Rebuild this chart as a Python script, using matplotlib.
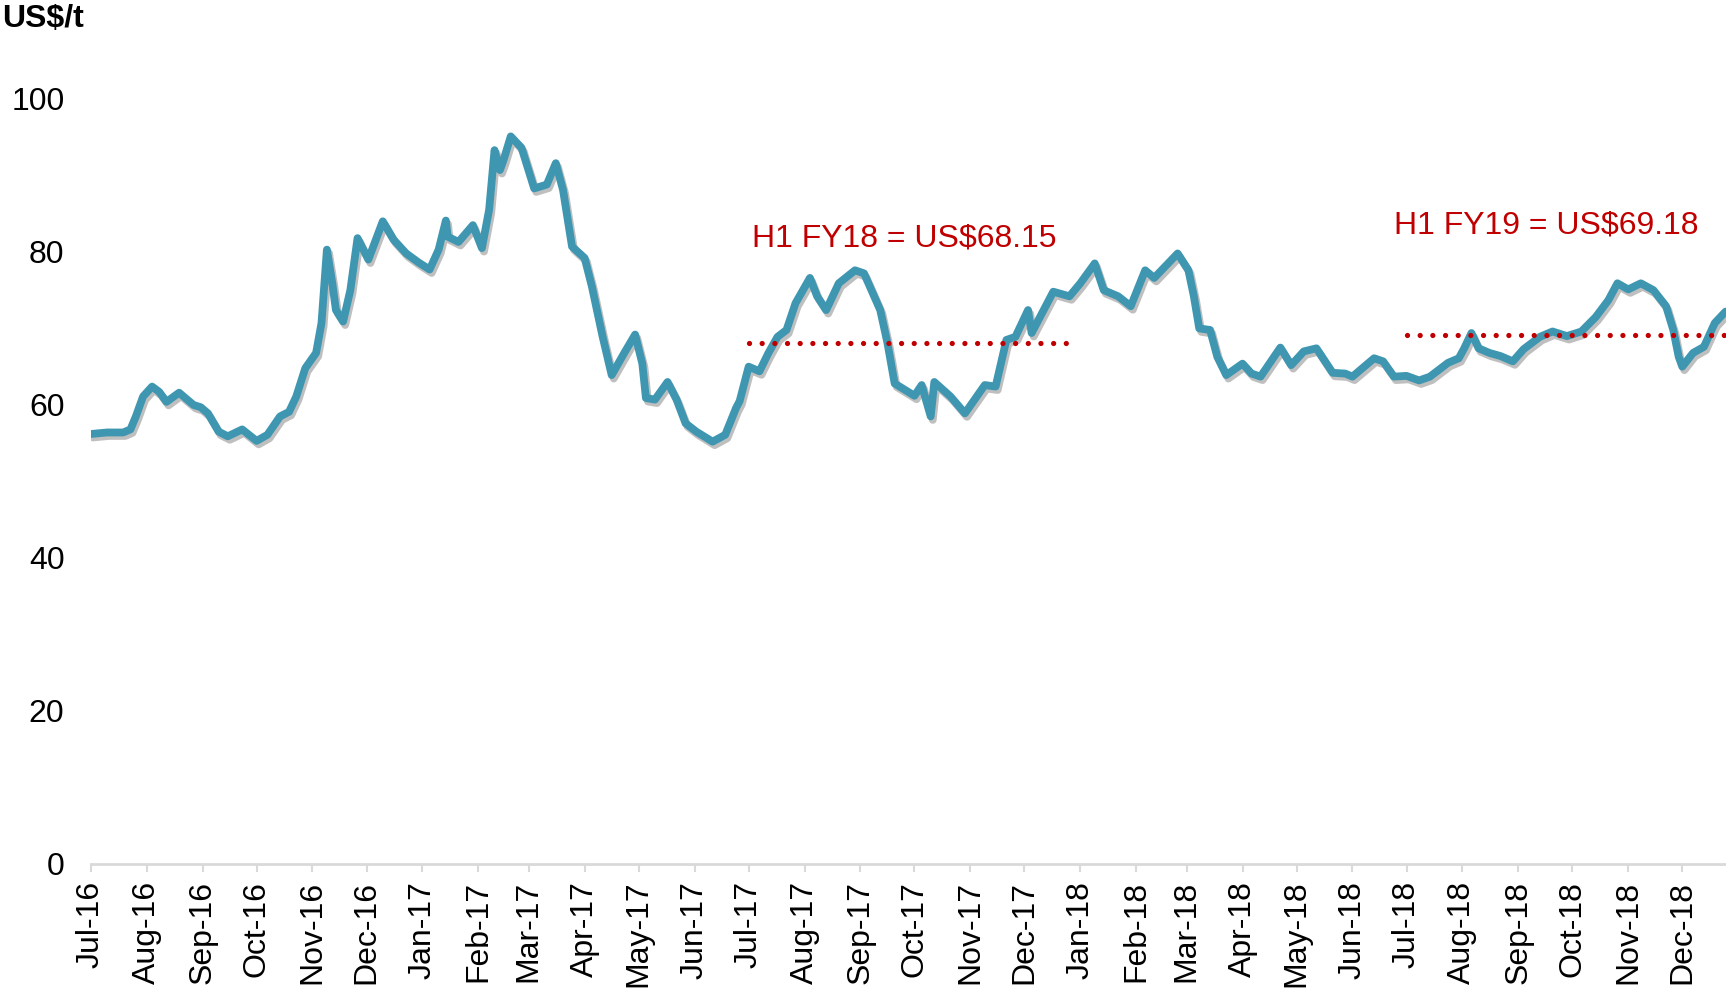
# Iron ore price chart, US$/t, Jul-16 to Dec-18
import numpy as np
import matplotlib
matplotlib.use('Agg')
import matplotlib.pyplot as plt
import matplotlib.dates as mdates
import matplotlib.patheffects as pe
import pandas as pd

plt.rcParams['font.family'] = ['Liberation Sans', 'DejaVu Sans']

# price readings (date, US$/t)
dates = ['2016-07-01', '2016-07-10', '2016-07-19', '2016-07-23', '2016-07-26', '2016-07-30',
         '2016-08-04', '2016-08-08', '2016-08-12', '2016-08-19', '2016-08-27', '2016-08-31',
         '2016-09-04', '2016-09-10', '2016-09-15', '2016-09-23', '2016-10-01', '2016-10-07',
         '2016-10-14', '2016-10-19', '2016-10-23', '2016-10-28', '2016-11-03', '2016-11-06',
         '2016-11-09', '2016-11-12', '2016-11-14', '2016-11-18', '2016-11-22', '2016-11-26',
         '2016-12-02', '2016-12-10', '2016-12-16', '2016-12-23', '2016-12-30',
         '2017-01-05', '2017-01-10', '2017-01-14', '2017-01-15', '2017-01-21', '2017-01-29',
         '2017-02-03', '2017-02-07', '2017-02-10', '2017-02-13', '2017-02-15', '2017-02-19',
         '2017-02-25', '2017-03-04', '2017-03-11', '2017-03-16', '2017-03-20', '2017-03-25',
         '2017-04-01', '2017-04-05', '2017-04-11', '2017-04-16', '2017-04-23', '2017-04-29',
         '2017-05-03', '2017-05-05', '2017-05-10', '2017-05-17', '2017-05-22', '2017-05-27',
         '2017-06-02', '2017-06-11', '2017-06-18', '2017-06-24', '2017-06-26', '2017-07-01',
         '2017-07-07', '2017-07-12', '2017-07-17', '2017-07-22', '2017-07-27', '2017-08-04',
         '2017-08-08', '2017-08-13', '2017-08-20', '2017-08-29', '2017-09-03', '2017-09-12',
         '2017-09-16', '2017-09-20', '2017-10-01', '2017-10-05', '2017-10-10', '2017-10-12',
         '2017-10-21', '2017-10-29', '2017-11-09', '2017-11-15', '2017-11-21', '2017-11-26',
         '2017-12-03', '2017-12-05', '2017-12-17', '2017-12-26',
         '2018-01-01', '2018-01-09', '2018-01-14', '2018-01-22', '2018-01-29', '2018-02-06',
         '2018-02-11', '2018-02-24', '2018-03-02', '2018-03-05', '2018-03-08', '2018-03-14',
         '2018-03-18', '2018-03-23', '2018-04-01', '2018-04-06', '2018-04-11', '2018-04-22',
         '2018-04-28', '2018-05-05', '2018-05-12', '2018-05-21', '2018-05-28', '2018-06-01',
         '2018-06-13', '2018-06-18', '2018-06-24', '2018-07-01', '2018-07-08', '2018-07-14',
         '2018-07-24', '2018-07-30', '2018-08-02', '2018-08-06', '2018-08-10', '2018-08-16',
         '2018-08-22', '2018-08-29', '2018-09-04', '2018-09-13', '2018-09-20', '2018-09-28',
         '2018-10-06', '2018-10-14', '2018-10-21', '2018-10-26', '2018-11-01', '2018-11-08',
         '2018-11-15', '2018-11-22', '2018-11-26', '2018-11-29', '2018-12-01', '2018-12-07',
         '2018-12-13', '2018-12-19', '2018-12-25']
prices = [56.2, 56.4, 56.4, 56.8, 58.5, 61.1,
          62.4, 61.7, 60.4, 61.6, 60.0, 59.7,
          58.9, 56.5, 55.9, 56.8, 55.3, 56.1,
          58.5, 59.1, 61.1, 64.8, 66.8, 70.7,
          80.3, 75.9, 72.4, 70.9, 75.0, 81.8,
          79.0, 84.0, 81.6, 79.8, 78.6,
          77.7, 80.3, 84.1, 82.0, 81.3, 83.5,
          80.5, 85.5, 93.3, 90.7, 92.0, 95.1,
          93.6, 88.3, 88.8, 91.6, 88.1, 80.7,
          79.2, 75.5, 68.9, 63.9, 66.8, 69.2,
          65.4, 60.9, 60.7, 63.0, 60.7, 57.6,
          56.5, 55.2, 56.1, 59.6, 60.5, 65.0,
          64.4, 66.8, 68.9, 69.8, 73.3, 76.6,
          74.2, 72.4, 75.9, 77.6, 77.2, 72.4,
          68.1, 62.8, 61.2, 62.6, 58.5, 63.0,
          61.1, 58.9, 62.6, 62.4, 68.5, 68.9,
          72.4, 69.4, 74.8, 74.2,
          75.9, 78.5, 75.0, 74.2, 72.9, 77.6,
          76.6, 79.8, 77.6, 74.2, 70.0, 69.8,
          66.3, 63.9, 65.4, 64.1, 63.7, 67.5,
          65.2, 67.0, 67.4, 64.2, 64.1, 63.7,
          66.1, 65.7, 63.7, 63.8, 63.2, 63.7,
          65.5, 66.1, 67.4, 69.4, 67.4, 66.8,
          66.4, 65.7, 67.3, 68.9, 69.6, 69.0,
          69.6, 71.5, 73.7, 75.9, 75.1, 75.9,
          75.0, 72.9, 69.8, 66.3, 65.0, 66.8,
          67.6, 70.7, 72.2]

# half-year averages
avg_labels = ['H1 FY18 = US$68.15', 'H1 FY19 = US$69.18']
avg_values = [68.15, 69.18]
avg_start = ['2017-07-01', '2018-07-01']
avg_end = ['2017-12-29', '2018-12-25']

x = pd.to_datetime(dates)

fig = plt.figure(figsize=(17.26, 9.89), dpi=100)
ax = fig.add_axes([0.0526, 0.1264, 0.9474, 0.7736])

ax.plot(x, prices, color='#3f96b1', lw=5.6, solid_joinstyle='round', solid_capstyle='round',
        path_effects=[pe.SimpleLineShadow(offset=(1.5, -2.5), shadow_color='black', alpha=0.25),
                      pe.Normal()])

# dotted average lines + labels
label_shift = [2, -7]      # days
label_rise = [13.6, 14.3]  # US$/t above the average line
for lab, v, s, e, dx, dy in zip(avg_labels, avg_values, avg_start, avg_end, label_shift, label_rise):
    ax.plot(pd.to_datetime([s, e]), [v, v], color='#c00000', lw=3.8,
            linestyle=(0, (0.001, 2.4)), dash_capstyle='round')
    ax.text(pd.to_datetime(s) + pd.Timedelta(days=dx), v + dy, lab,
            color='#c00000', fontsize=23, ha='left', va='center')

ax.set_xlim(pd.Timestamp('2016-07-01'), pd.Timestamp('2018-12-25 06:00'))
ax.set_ylim(0, 100)
ax.set_yticks(np.arange(0, 101, 20))

ax.xaxis.set_major_locator(mdates.MonthLocator())
ax.xaxis.set_major_formatter(mdates.DateFormatter('%b-%y'))
plt.setp(ax.get_xticklabels(), rotation=90, ha='center', va='top')

ax.tick_params(axis='x', length=6, width=1.5, color='#d9d9d9', labelsize=23, pad=6)
ax.tick_params(axis='y', length=0, labelsize=23, pad=19)

for side in ['top', 'right', 'left']:
    ax.spines[side].set_visible(False)
ax.spines['bottom'].set_color('#d9d9d9')
ax.spines['bottom'].set_linewidth(2)

fig.text(0.001, 1 - 19 / 989, 'US$/t', fontsize=23, fontweight='bold', ha='left', va='center')

plt.savefig('out.png', dpi=100)
